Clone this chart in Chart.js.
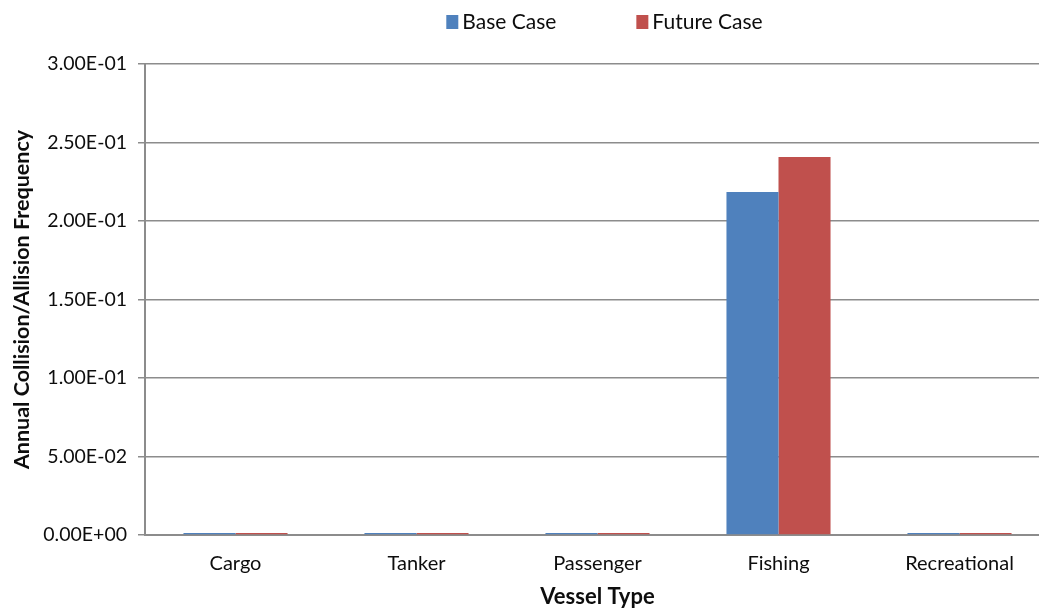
<!DOCTYPE html>
<html>
<head>
<meta charset="utf-8">
<script src="https://cdn.jsdelivr.net/npm/chart.js@4/dist/chart.umd.min.js"></script>
<style>
html,body{margin:0;padding:0;background:#fff;overflow:hidden;width:1039px;height:610px;}
#wrap{position:absolute;left:0;top:0;width:1052px;height:610px;}
</style>
</head>
<body>
<div id="wrap"><canvas id="c" width="1052" height="610"></canvas></div>
<script>
const categories = ["Cargo", "Tanker", "Passenger", "Fishing", "Recreational"];
const baseCase = [0.0012, 0.0012, 0.0012, 0.2185, 0.0012];
const futureCase = [0.0013, 0.0013, 0.0013, 0.2408, 0.0013];
const seriesNames = ["Base Case", "Future Case"];
const yMin = 0, yMax = 0.3, yStep = 0.05;
const yTitle = "Annual Collision/Allision Frequency";
const xTitle = "Vessel Type";

const FONT = "Lato, 'Open Sans', sans-serif";
const TXT = "#0d0d0d";
const GRID = "#8c8c8c";

function sci(v) {
  if (Math.abs(v) < 1e-12) return "0.00E+00";
  let e = Math.floor(Math.log10(Math.abs(v)) + 1e-9);
  let m = v / Math.pow(10, e);
  if (Math.abs(m) >= 9.995) { m /= 10; e += 1; }
  const sign = e < 0 ? "-" : "+";
  const ae = Math.abs(e);
  return m.toFixed(2) + "E" + sign + (ae < 10 ? "0" + ae : "" + ae);
}

const legendPlugin = {
  id: "customLegend",
  afterDraw(chart) {
    const ctx = chart.ctx;
    const ca = chart.chartArea;
    ctx.save();
    ctx.font = "21px " + FONT;
    ctx.textBaseline = "middle";
    const box = 12, gap = 4, itemGap = 80;
    const items = chart.data.datasets.map(d => ({label: d.label, color: d.backgroundColor, w: ctx.measureText(d.label).width}));
    let total = 0;
    items.forEach((it, i) => { total += box + gap + it.w + (i < items.length - 1 ? itemGap : 0); });
    let x = (ca.left + ca.right) / 2 + 7 - total / 2;
    const y = 22;
    items.forEach(it => {
      ctx.fillStyle = it.color;
      ctx.fillRect(x, y - 7, box, 14);
      ctx.fillStyle = TXT;
      ctx.textAlign = "left";
      ctx.fillText(it.label, x + box + gap, y);
      x += box + gap + it.w + itemGap;
    });
    ctx.restore();
  }
};

new Chart(document.getElementById("c"), {
  type: "bar",
  data: {
    labels: categories,
    datasets: [
      {label: seriesNames[0], data: baseCase, backgroundColor: "#4F81BD", borderWidth: 0},
      {label: seriesNames[1], data: futureCase, backgroundColor: "#C0504D", borderWidth: 0}
    ]
  },
  options: {
    responsive: false,
    animation: false,
    devicePixelRatio: 1,
    layout: {padding: {top: 64, right: 2, left: 0, bottom: 0}},
    plugins: {legend: {display: false}, tooltip: {enabled: false}},
    datasets: {bar: {categoryPercentage: 0.575, barPercentage: 1.0}},
    scales: {
      x: {
        grid: {display: false, drawTicks: false},
        border: {display: true, color: GRID, width: 2},
        ticks: {color: TXT, font: {family: FONT, size: 20}, padding: 17},
        title: {display: true, text: xTitle, color: TXT, font: {family: FONT, size: 22, weight: "bold"}, padding: {top: 6, bottom: 0}},
        afterFit(s) { s.height = 75; }
      },
      y: {
        min: yMin, max: yMax,
        grid: {color: GRID, lineWidth: 1.5, drawTicks: true, tickLength: 7, tickColor: GRID},
        border: {display: true, color: GRID, width: 2},
        ticks: {stepSize: yStep, color: TXT, font: {family: FONT, size: 19.5}, padding: 11, callback: v => sci(v)},
        title: {display: true, text: yTitle, color: TXT, font: {family: FONT, size: 21.5, weight: "bold"}, padding: {top: 9, bottom: 0}},
        afterFit(s) { s.width = 145; }
      }
    }
  },
  plugins: [legendPlugin]
});
</script>
</body>
</html>
